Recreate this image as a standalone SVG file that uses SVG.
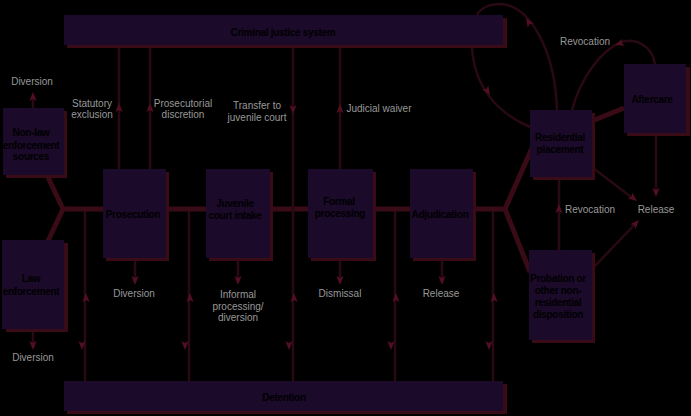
<svg xmlns="http://www.w3.org/2000/svg" xmlns:xlink="http://www.w3.org/1999/xlink" width="691" height="416" viewBox="0 0 691 416">
<style>
.box{fill:#1b0a2a}
.sh{fill:#380b16}
.bt{font-family:"Liberation Sans",Arial,sans-serif;font-weight:bold;font-size:10px;fill:#000;text-anchor:middle;letter-spacing:-0.3px}
.lb{font-family:"Liberation Sans",Arial,sans-serif;font-size:10px;fill:#989898;text-anchor:middle}
.thick{stroke:#380b16;stroke-width:5;fill:none}
.thin{stroke:#290912;stroke-width:2.5;fill:none}
.ah{fill:#520f22}
</style>
<defs>
<path id="ah" d="M0,0 L3.6,9 L0,7 L-3.6,9 Z"/>
</defs>
<rect width="691" height="416" fill="#000"/>
<g id="connectors">
<polyline class="thick" points="46,173 63,209 48,241"/>
<line class="thick" x1="63" y1="209" x2="505" y2="209"/>
<polyline class="thick" points="532,148 505,209 530,272"/>
<line class="thick" x1="592" y1="121" x2="624" y2="108" stroke-width="6"/>
<line class="thin" x1="119" y1="46" x2="119" y2="169"/>
<line class="thin" x1="150" y1="46" x2="150" y2="169"/>
<line class="thin" x1="293" y1="46" x2="293" y2="381"/>
<line class="thin" x1="340" y1="46" x2="340" y2="169"/>
<line class="thin" x1="85" y1="211" x2="85" y2="381"/>
<line class="thin" x1="189" y1="211" x2="189" y2="381"/>
<line class="thin" x1="395" y1="211" x2="395" y2="381"/>
<line class="thin" x1="493" y1="211" x2="493" y2="381"/>
<line class="thin" x1="33" y1="108" x2="33" y2="94"/>
<line class="thin" x1="33" y1="332" x2="33" y2="348"/>
<line class="thin" x1="135" y1="261" x2="135" y2="283"/>
<line class="thin" x1="238" y1="261" x2="238" y2="283"/>
<line class="thin" x1="340" y1="261" x2="340" y2="283"/>
<line class="thin" x1="442" y1="261" x2="442" y2="283"/>
<path class="thin" d="M557,110 C555,50 530,5 500,4 C488,4 480,9 477,15"/>
<path class="thin" d="M472,47 C474,85 495,112 530,127"/>
<path class="thin" d="M655,64 C652,45 635,38 622,42 C600,50 580,80 572,110"/>
<line class="thin" x1="656" y1="136" x2="656" y2="195"/>
<line class="thin" x1="593" y1="168" x2="635" y2="200"/>
<line class="thin" x1="594" y1="267" x2="637" y2="222"/>
<line class="thin" x1="559" y1="250" x2="559" y2="178"/>
<use xlink:href="#ah" class="ah" transform="translate(119,103)"/>
<use xlink:href="#ah" class="ah" transform="translate(150,103)"/>
<use xlink:href="#ah" class="ah" transform="translate(293,114) rotate(180)"/>
<use xlink:href="#ah" class="ah" transform="translate(340,104)"/>
<use xlink:href="#ah" class="ah" transform="translate(86,293)"/>
<use xlink:href="#ah" class="ah" transform="translate(82,350) rotate(180)"/>
<use xlink:href="#ah" class="ah" transform="translate(190,293)"/>
<use xlink:href="#ah" class="ah" transform="translate(185,350) rotate(180)"/>
<use xlink:href="#ah" class="ah" transform="translate(294,293)"/>
<use xlink:href="#ah" class="ah" transform="translate(289,350) rotate(180)"/>
<use xlink:href="#ah" class="ah" transform="translate(396,293)"/>
<use xlink:href="#ah" class="ah" transform="translate(391,350) rotate(180)"/>
<use xlink:href="#ah" class="ah" transform="translate(494,293)"/>
<use xlink:href="#ah" class="ah" transform="translate(489,350) rotate(180)"/>
<use xlink:href="#ah" class="ah" transform="translate(33,92)"/>
<use xlink:href="#ah" class="ah" transform="translate(33,350) rotate(180)"/>
<use xlink:href="#ah" class="ah" transform="translate(135,285) rotate(180)"/>
<use xlink:href="#ah" class="ah" transform="translate(238,285) rotate(180)"/>
<use xlink:href="#ah" class="ah" transform="translate(340,285) rotate(180)"/>
<use xlink:href="#ah" class="ah" transform="translate(442,285) rotate(180)"/>
<use xlink:href="#ah" class="ah" transform="translate(656,197) rotate(180)"/>
<use xlink:href="#ah" class="ah" transform="translate(559,204)"/>
<use xlink:href="#ah" class="ah" transform="translate(637,201) rotate(128)"/>
<use xlink:href="#ah" class="ah" transform="translate(639,220) rotate(43)"/>
<use xlink:href="#ah" class="ah" transform="translate(526,18) rotate(-32)"/>
<use xlink:href="#ah" class="ah" transform="translate(490,95) rotate(148)"/>
<use xlink:href="#ah" class="ah" transform="translate(615,45) rotate(-108)"/>
</g>
<g id="cjs">
<rect class="sh" x="67" y="18" width="440" height="30"/>
<rect class="box" x="64" y="15" width="439" height="30"/>
<text class="bt" x="283" y="36">Criminal justice system</text>
</g>
<g id="detention">
<rect class="sh" x="67" y="384" width="440" height="30"/>
<rect class="box" x="64" y="381" width="439" height="30"/>
<text class="bt" x="284" y="401">Detention</text>
</g>
<g id="nonlaw">
<rect class="sh" x="6" y="111" width="61" height="67"/>
<rect class="box" x="3" y="108" width="61" height="67"/>
<text class="bt" x="31" y="136">Non-law</text>
<text class="bt" x="31" y="149">enforcement</text>
<text class="bt" x="31" y="160">sources</text>
</g>
<g id="law">
<rect class="sh" x="6" y="243" width="62" height="89"/>
<rect class="box" x="2" y="240" width="62" height="89"/>
<text class="bt" x="31" y="282">Law</text>
<text class="bt" x="31" y="295">enforcement</text>
</g>
<g id="prosecution">
<rect class="sh" x="106" y="172" width="63" height="89"/>
<rect class="box" x="103" y="169" width="63" height="89"/>
<text class="bt" x="133" y="218">Prosecution</text>
</g>
<g id="intake">
<rect class="sh" x="209" y="172" width="64" height="89"/>
<rect class="box" x="206" y="169" width="64" height="89"/>
<text class="bt" x="235" y="207">Juvenile</text>
<text class="bt" x="235" y="219">court intake</text>
</g>
<g id="formal">
<rect class="sh" x="311" y="172" width="65" height="89"/>
<rect class="box" x="308" y="169" width="65" height="89"/>
<text class="bt" x="339" y="205">Formal</text>
<text class="bt" x="340" y="217">processing</text>
</g>
<g id="adjudication">
<rect class="sh" x="413" y="172" width="63" height="89"/>
<rect class="box" x="410" y="169" width="63" height="89"/>
<text class="bt" x="440" y="218">Adjudication</text>
</g>
<g id="residential">
<rect class="sh" x="533" y="113" width="62" height="67"/>
<rect class="box" x="530" y="110" width="62" height="67"/>
<text class="bt" x="560" y="141">Residential</text>
<text class="bt" x="560" y="153">placement</text>
</g>
<g id="aftercare">
<rect class="sh" x="627" y="67" width="63" height="69"/>
<rect class="box" x="624" y="64" width="62" height="69"/>
<text class="bt" x="652" y="103">Aftercare</text>
</g>
<g id="probation">
<rect class="sh" x="532" y="253" width="63" height="90"/>
<rect class="box" x="529" y="250" width="63" height="90"/>
<text class="bt" x="558" y="282">Probation or</text>
<text class="bt" x="558" y="294">other non-</text>
<text class="bt" x="558" y="306">residential</text>
<text class="bt" x="558" y="318">disposition</text>
</g>
<g id="labels">
<text class="lb" x="32" y="85">Diversion</text>
<text class="lb" x="92" y="107">Statutory</text>
<text class="lb" x="92" y="118">exclusion</text>
<text class="lb" x="183" y="107">Prosecutorial</text>
<text class="lb" x="183" y="118">discretion</text>
<text class="lb" x="257" y="109">Transfer to</text>
<text class="lb" x="257" y="121">juvenile court</text>
<text class="lb" x="379" y="112">Judicial waiver</text>
<text class="lb" x="585" y="45">Revocation</text>
<text class="lb" x="590" y="213">Revocation</text>
<text class="lb" x="656" y="213">Release</text>
<text class="lb" x="134" y="297">Diversion</text>
<text class="lb" x="238" y="298">Informal</text>
<text class="lb" x="238" y="310">processing/</text>
<text class="lb" x="238" y="321">diversion</text>
<text class="lb" x="340" y="297">Dismissal</text>
<text class="lb" x="441" y="297">Release</text>
<text class="lb" x="33" y="361">Diversion</text>
</g>
</svg>
